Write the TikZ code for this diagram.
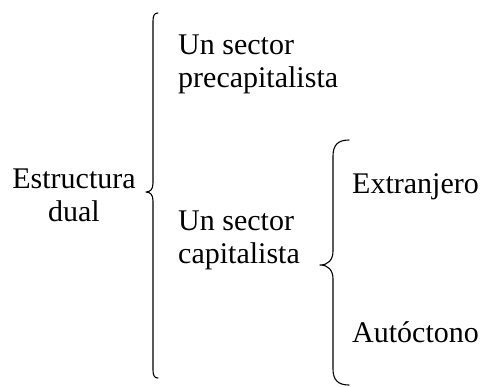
\documentclass[tikz,border=0pt]{standalone}
\usepackage{fontspec}
\setmainfont{Liberation Serif}
\newfontfamily\tnr{Liberation Serif}
\begin{document}
\begin{tikzpicture}[x=1pt,y=-1pt,
  lbl/.style={inner sep=0pt, font=\tnr\fontsize{30}{33}\selectfont},
  brc/.style={line width=1.1pt, line cap=round, line join=round}]
\useasboundingbox (0,0) rectangle (489,386);
% texts
\node[lbl, align=center, anchor=base] (ed) at (74,221) {Estructura\\dual};
\node[lbl, align=left, anchor=base west] (pre) at (178,87) {Un sector\\precapitalista};
\node[lbl, align=left, anchor=base west] (cap) at (178,263) {Un sector\\capitalista};
\node[lbl, anchor=base west] (ext) at (352,193) {Extranjero};
\node[lbl, anchor=base west] (aut) at (352,342) {Autóctono};
% big brace
\draw[brc] (158,13) .. controls (154.5,13) and (153,15.5) .. (153,21)
  -- (153,183) .. controls (153,189) and (150.5,192) .. (146,192)
  .. controls (150.5,192) and (153,195) .. (153,201)
  -- (153,370) .. controls (153,375.5) and (154.5,378) .. (158,378);
% second brace
\draw[brc] (349,140) .. controls (338,140) and (333,145) .. (333,156)
  -- (333,251) .. controls (333,260) and (328,265) .. (320,265)
  .. controls (328,265) and (333,270) .. (333,279)
  -- (333,369) .. controls (333,380) and (338,385) .. (349,385);
\end{tikzpicture}
\end{document}
